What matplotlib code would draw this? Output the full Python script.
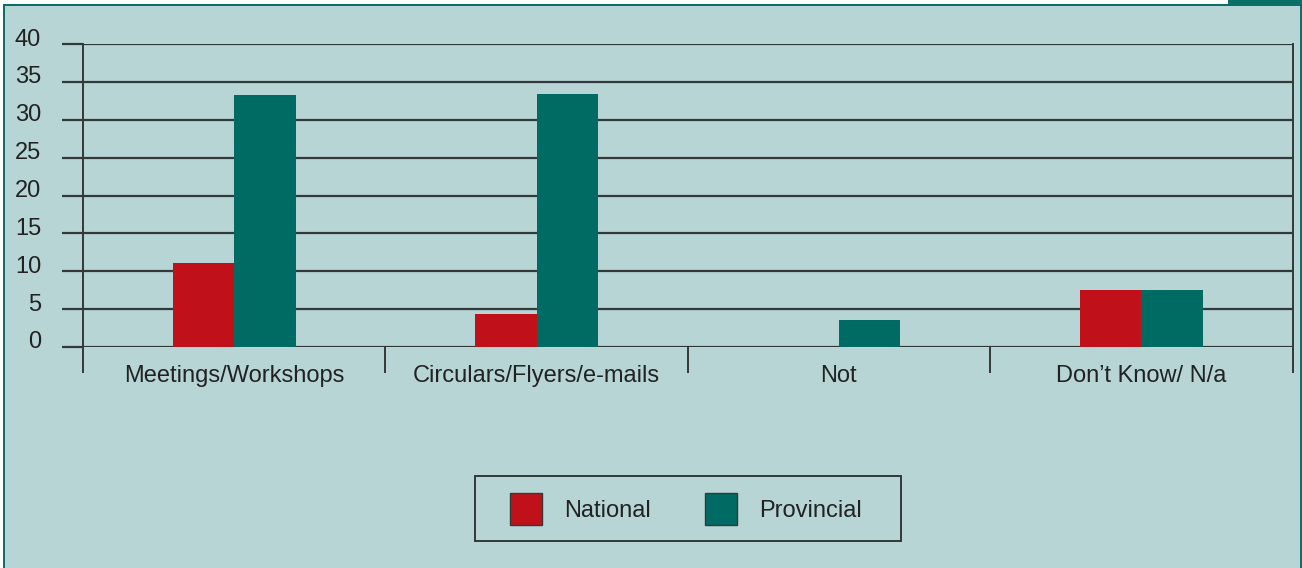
import matplotlib
matplotlib.use("Agg")
import matplotlib.pyplot as plt
import matplotlib.transforms as mtransforms
from matplotlib.patches import Rectangle
import numpy as np

categories = ["Meetings/Workshops", "Circulars/Flyers/e-mails", "Not", "Don\u2019t Know/ N/a"]
national = [11.1, 4.4, 0, 7.5]
provincial = [33.3, 33.4, 3.6, 7.5]
yticks = [0, 5, 10, 15, 20, 25, 30, 35, 40]

BG = "#b7d5d5"
RED = "#c0111a"
TEAL = "#006b63"
BORDER = "#0b6f69"
LINE = "#333838"
TXT = "#222222"
FONT = "Liberation Sans"
FS = 17

W, H = 1302, 568
fig = plt.figure(figsize=(W / 100, H / 100), dpi=100)
fig.patch.set_facecolor("white")

# background panel with border
fig.add_artist(Rectangle((3 / W, 0), (W - 4) / W, (H - 4) / H, transform=fig.transFigure,
                         facecolor=BG, edgecolor="none", zorder=0))
fig.add_artist(Rectangle((3 / W, 0), 2.2 / W, (H - 4) / H, transform=fig.transFigure,
                         facecolor=BORDER, edgecolor="none", zorder=1))
fig.add_artist(Rectangle((3 / W, (H - 6) / H), (W - 3) / W, 2.2 / H, transform=fig.transFigure,
                         facecolor=BORDER, edgecolor="none", zorder=1))
fig.add_artist(Rectangle(((W - 2.5) / W, 0), 2.5 / W, 1, transform=fig.transFigure,
                         facecolor=BORDER, edgecolor="none", zorder=1))
fig.add_artist(Rectangle((1228 / W, (H - 6) / H), (W - 1228) / W, 6 / H, transform=fig.transFigure,
                         facecolor=BORDER, edgecolor="none", zorder=1))

left, right = 83 / W, 1292.5 / W
bottom, top = 1 - 347 / H, 1 - 44 / H
ax = fig.add_axes([left, bottom, right - left, top - bottom])
ax.set_facecolor("none")

n = len(categories)
x = np.arange(n) + 0.5
bw = 0.2035
ax.bar(x - bw / 2, national, bw, color=RED, zorder=3, linewidth=0, label="National")
ax.bar(x + bw / 2, provincial, bw, color=TEAL, zorder=3, linewidth=0, label="Provincial")

ax.set_xlim(0, n)
ax.set_ylim(0, 40)

# gridlines
for v in yticks:
    ax.axhline(v, color=LINE, lw=1.6, zorder=2)

for s in ["top", "bottom"]:
    ax.spines[s].set_visible(False)
ax.spines["left"].set_color(LINE)
ax.spines["left"].set_linewidth(1.4)
ax.spines["right"].set_color(LINE)
ax.spines["right"].set_linewidth(1.4)

# y ticks
ax.set_yticks(yticks)
ax.set_yticklabels([str(v) for v in yticks], fontsize=FS, color=TXT, family=FONT)
ax.tick_params(axis="y", direction="out", length=15.2, width=1.6, color=LINE, pad=15)
off = mtransforms.ScaledTranslation(0, 7 / 100, fig.dpi_scale_trans)
for lab in ax.get_yticklabels():
    lab.set_transform(lab.get_transform() + off)

# x ticks: boundaries as major ticks, labels as minor
ax.set_xticks(np.arange(n + 1))
ax.set_xticklabels([""] * (n + 1))
ax.tick_params(axis="x", which="major", direction="out", length=18.5, width=1.4, color=LINE)
ax.set_xticks(x, minor=True)
ax.set_xticklabels(categories, minor=True, fontsize=FS, color=TXT, family=FONT)
ax.tick_params(axis="x", which="minor", length=0, pad=13)
for t in ax.xaxis.get_majorticklines():
    t.set_clip_on(False)

# legend frame (drawn separately)
fig.add_artist(Rectangle((475 / W, 1 - 541 / H), 426 / W, 65 / H, transform=fig.transFigure,
                         facecolor="none", edgecolor=LINE, linewidth=1.4, zorder=2))
leg = fig.legend(loc="center", bbox_to_anchor=(686 / W, 1 - 509 / H), ncol=2,
                 prop={"family": FONT, "size": FS}, frameon=False,
                 handlelength=1.33, handleheight=1.68, handletextpad=0.95, columnspacing=2.3,
                 borderpad=0.3, borderaxespad=0)
for p in leg.get_patches():
    p.set_edgecolor(LINE)
    p.set_linewidth(1.0)
for t in leg.get_texts():
    t.set_color(TXT)

fig.savefig("out.png", dpi=100, facecolor=fig.get_facecolor())
